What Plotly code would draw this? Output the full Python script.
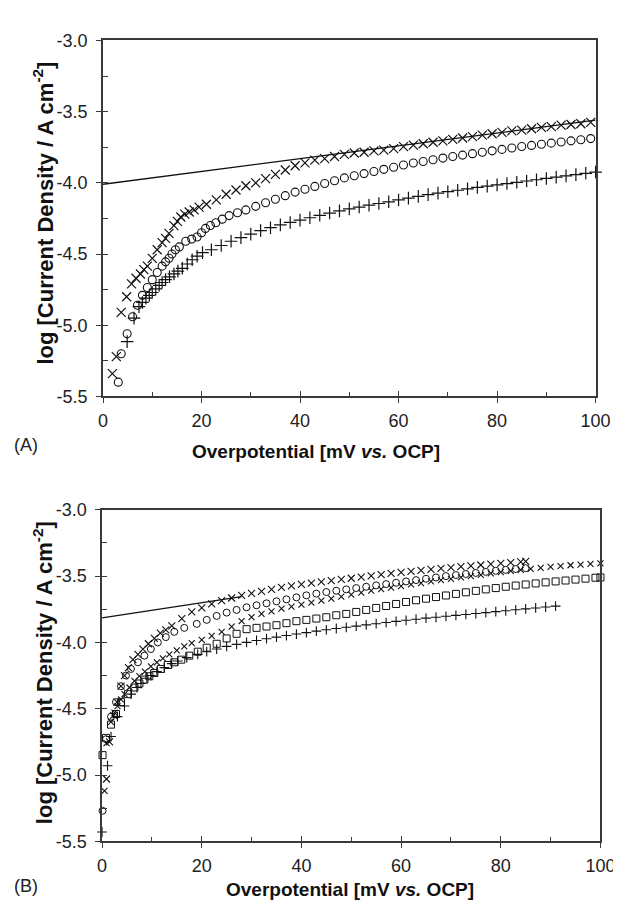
import plotly.graph_objects as go

# ---------------- Panel A data ----------------
A_line_x = [0, 100]
A_line_y = [-4.01, -3.56]

A_cross_x = [1.9, 2.7, 3.7, 4.8, 5.8, 6.7, 7.6, 8.3, 9.0, 10.0, 11.0, 12.0, 12.7, 13.4, 14.4, 15.1, 15.8, 16.6, 17.5, 18.5, 19.5,
             21, 23, 25, 27, 29, 31, 33, 35, 37, 39, 41, 43, 45, 47, 49, 51, 53, 55, 57, 59,
             61, 63, 65, 67, 69, 71, 73, 75, 77, 79, 81, 83, 85, 87, 89, 91, 93, 95, 97, 99]
A_cross_y = [-5.34, -5.22, -4.91, -4.80, -4.71, -4.67, -4.64, -4.61, -4.585, -4.53, -4.47, -4.42, -4.39, -4.355, -4.30, -4.27, -4.24, -4.22, -4.205, -4.19, -4.17,
             -4.15, -4.12, -4.08, -4.05, -4.02, -4.00, -3.97, -3.94, -3.91, -3.88, -3.86, -3.84, -3.83, -3.815, -3.80, -3.79, -3.785, -3.775, -3.77, -3.76,
             -3.745, -3.735, -3.725, -3.715, -3.705, -3.695, -3.685, -3.675, -3.665, -3.655, -3.645, -3.635, -3.63, -3.62, -3.61, -3.605, -3.595, -3.59, -3.585, -3.575]

A_circle_x = [3.1, 3.7, 4.9, 6.0, 7.0, 8.0, 9.0, 10.0, 11.0, 12.0, 12.7, 13.4, 14.0, 14.7, 15.5, 16.8, 18.0, 19.1, 20.0, 20.8, 21.8, 22.9, 24.2, 25.6, 27.3, 29.0,
              31, 33, 35, 37, 39, 41, 43, 45, 47, 49, 51, 53, 55, 57, 59, 61, 63, 65, 67, 69, 71, 73, 75, 77, 79, 81, 83, 85, 87, 89, 91, 93, 95, 97, 99]
A_circle_y = [-5.40, -5.20, -5.06, -4.94, -4.86, -4.79, -4.735, -4.68, -4.63, -4.585, -4.555, -4.53, -4.50, -4.47, -4.45, -4.41, -4.395, -4.38, -4.35, -4.32, -4.30, -4.28, -4.255, -4.23, -4.21, -4.19,
              -4.165, -4.14, -4.115, -4.09, -4.065, -4.045, -4.025, -4.005, -3.985, -3.965, -3.95, -3.935, -3.92, -3.905, -3.89, -3.875, -3.86, -3.85, -3.838, -3.826,
              -3.815, -3.805, -3.795, -3.785, -3.775, -3.765, -3.755, -3.745, -3.737, -3.729, -3.721, -3.713, -3.705, -3.697, -3.689]

A_plus_x = [4.9, 6.3, 7.3, 8.0, 8.7, 9.4, 10.0, 10.7, 11.4, 12.0, 12.7, 13.5, 14.4, 15.2, 16.1, 17.1, 18.1, 19.1, 20.2,
            22, 24, 26, 28, 30, 32, 34, 36, 38, 40, 42, 44, 46, 48, 50, 52, 54, 56, 58, 60,
            62, 64, 66, 68, 70, 72, 74, 76, 78, 80, 82, 84, 86, 88, 90, 92, 94, 96, 98, 100]
A_plus_y = [-5.115, -4.95, -4.87, -4.84, -4.81, -4.79, -4.77, -4.745, -4.72, -4.70, -4.68, -4.66, -4.64, -4.62, -4.60, -4.57, -4.54, -4.515, -4.49,
            -4.47, -4.44, -4.41, -4.385, -4.36, -4.335, -4.315, -4.295, -4.278, -4.262, -4.245, -4.228, -4.212, -4.197, -4.183, -4.170, -4.157, -4.145, -4.133, -4.12,
            -4.107, -4.095, -4.083, -4.072, -4.062, -4.052, -4.042, -4.032, -4.023, -4.014, -4.005, -3.996, -3.987, -3.978, -3.969, -3.96, -3.951, -3.942, -3.933, -3.924]

# ---------------- Panel B data ----------------
B_line_x = [0, 28]
B_line_y = [-3.815, -3.655]

B_cross1_x = [0.9, 1.5, 2.3, 3.0, 3.8, 4.5, 5.3, 6.2, 7.2, 8.2, 9.3, 10.5, 11.7, 12.8,
              14, 16, 18, 20, 22, 24, 26, 28, 30, 32, 34, 36, 38, 40, 42, 44, 46, 48, 50, 52, 54, 56, 58, 60,
              62, 64, 66, 68, 70, 72, 74, 76, 78, 80, 82, 84, 85]
B_cross1_y = [-5.03, -4.75, -4.55, -4.45, -4.33, -4.25, -4.19, -4.13, -4.09, -4.05, -4.01, -3.97, -3.93, -3.905,
              -3.875, -3.82, -3.77, -3.74, -3.71, -3.685, -3.665, -3.645, -3.63, -3.615, -3.60, -3.585, -3.573, -3.562, -3.552, -3.543, -3.534, -3.525, -3.516, -3.507, -3.498, -3.489, -3.48, -3.472,
              -3.464, -3.456, -3.449, -3.442, -3.435, -3.428, -3.422, -3.416, -3.41, -3.404, -3.398, -3.392, -3.388]

B_circle_x = [0.1, 0.8, 1.8, 2.8, 3.8, 4.8, 5.8, 7.2, 8.5, 9.8, 11.2, 12.8, 14.5, 16.5, 19,
              21, 23, 25, 27, 29, 31, 33, 35, 37, 39, 41, 43, 45, 47, 49, 51, 53, 55, 57, 59,
              61, 63, 65, 67, 69, 71, 73, 75, 77, 79, 81, 83, 85]
B_circle_y = [-5.27, -4.73, -4.56, -4.45, -4.33, -4.25, -4.20, -4.15, -4.10, -4.05, -4.00, -3.96, -3.92, -3.89, -3.86,
              -3.83, -3.80, -3.775, -3.755, -3.735, -3.72, -3.705, -3.69, -3.675, -3.66, -3.645, -3.632, -3.62, -3.61, -3.60, -3.59, -3.58, -3.57, -3.56, -3.55,
              -3.54, -3.53, -3.52, -3.51, -3.50, -3.492, -3.484, -3.476, -3.468, -3.46, -3.453, -3.446, -3.44]

B_cross2_x = [0.5, 0.9, 1.8, 2.5, 3.1, 3.8, 4.5, 5.5, 6.5, 7.5, 8.6, 9.8, 11.0, 12.2, 13.5, 15.0, 16.5, 18.0,
              20, 22, 24, 26, 28, 30, 32, 34, 36, 38, 40, 42, 44, 46, 48, 50, 52, 54, 56, 58,
              60, 62, 64, 66, 68, 70, 72, 74, 76, 78, 80, 82, 84, 86, 88, 90, 92, 94, 96, 98, 100]
B_cross2_y = [-5.12, -4.76, -4.60, -4.53, -4.48, -4.43, -4.39, -4.34, -4.29, -4.255, -4.22, -4.18, -4.15, -4.12, -4.09, -4.06, -4.03, -4.005,
              -3.98, -3.95, -3.92, -3.88, -3.84, -3.81, -3.785, -3.765, -3.745, -3.73, -3.715, -3.70, -3.685, -3.67, -3.655, -3.64, -3.625, -3.61, -3.598, -3.586,
              -3.575, -3.563, -3.552, -3.54, -3.53, -3.52, -3.51, -3.50, -3.49, -3.48, -3.47, -3.461, -3.453, -3.445, -3.437, -3.43, -3.424, -3.418, -3.413, -3.408, -3.403]

B_square_x = [0.1, 0.8, 1.8, 2.8, 3.8, 5.2, 6.5, 7.5, 8.5, 9.5, 10.5, 11.8, 13.2, 14.5, 15.9, 17.5, 19.2,
              21, 23, 25, 27, 29, 31, 33, 35, 37, 39, 41, 43, 45, 47, 49, 51, 53, 55, 57, 59,
              61, 63, 65, 67, 69, 71, 73, 75, 77, 79, 81, 83, 85, 87, 89, 91, 93, 95, 97, 99, 100]
B_square_y = [-4.85, -4.72, -4.62, -4.54, -4.45, -4.39, -4.34, -4.31, -4.28, -4.255, -4.23, -4.20, -4.17, -4.15, -4.13, -4.10, -4.07,
              -4.04, -4.01, -3.97, -3.935, -3.90, -3.89, -3.88, -3.87, -3.855, -3.84, -3.83, -3.82, -3.81, -3.795, -3.785, -3.77, -3.755, -3.74, -3.725, -3.71,
              -3.695, -3.682, -3.67, -3.658, -3.646, -3.634, -3.622, -3.611, -3.60, -3.59, -3.58, -3.571, -3.563, -3.555, -3.547, -3.54, -3.533, -3.526, -3.519, -3.512, -3.51]

B_plus_x = [0.0, 1.1, 1.8, 3.1, 4.5, 5.8, 7.0, 7.8, 9.0, 9.8, 11.0, 12.5, 14.0, 15.2, 17.0, 19.2,
            21, 23, 25, 27, 29, 31, 33, 35, 37, 39, 41, 43, 45, 47, 49, 51, 53, 55, 57, 59,
            61, 63, 65, 67, 69, 71, 73, 75, 77, 79, 81, 83, 85, 87, 89, 91]
B_plus_y = [-5.43, -4.93, -4.71, -4.56, -4.48, -4.39, -4.34, -4.31, -4.27, -4.25, -4.22, -4.19, -4.16, -4.14, -4.115, -4.09,
            -4.07, -4.05, -4.03, -4.015, -4.00, -3.985, -3.972, -3.96, -3.948, -3.937, -3.926, -3.915, -3.905, -3.895, -3.886, -3.877, -3.868, -3.859, -3.85, -3.841,
            -3.833, -3.825, -3.817, -3.81, -3.803, -3.796, -3.789, -3.782, -3.775, -3.768, -3.761, -3.754, -3.747, -3.74, -3.733, -3.726]

# ---------------- ticks / labels ----------------
x_tickvals = [0, 20, 40, 60, 80, 100]
x_ticktext = ["0", "20", "40", "60", "80", "100"]
x_minor = [10, 30, 50, 70, 90]
y_tickvals = [-5.5, -5.0, -4.5, -4.0, -3.5, -3.0]
y_ticktext = ["-5.5", "-5.0", "-4.5", "-4.0", "-3.5", "-3.0"]
y_minor = [-5.25, -4.75, -4.25, -3.75, -3.25]

x_title = "<b>Overpotential [mV <i>vs.</i> OCP]</b>"
y_title = "<b>log [Current Density / A cm<sup>-2</sup>]</b>"

W, H = 621, 901
FONT = "Arial, Liberation Sans, sans-serif"
AX = "#3a3a3a"
INK = "#111111"

fig = go.Figure()


def add_pts(x, y, sym, size, lw, xa, ya):
    fig.add_trace(go.Scatter(
        x=x, y=y, mode="markers", xaxis=xa, yaxis=ya, cliponaxis=False,
        marker=dict(symbol=sym, size=size, color=INK, line=dict(color=INK, width=lw)),
        showlegend=False, hoverinfo="skip"))


def add_line(x, y, xa, ya):
    fig.add_trace(go.Scatter(x=x, y=y, mode="lines", xaxis=xa, yaxis=ya,
                             line=dict(color=INK, width=1.3), showlegend=False, hoverinfo="skip"))


# Panel A
add_line(A_line_x, A_line_y, "x", "y")
add_pts(A_plus_x, A_plus_y, "cross-thin-open", 9, 1.2, "x", "y")
add_pts(A_circle_x, A_circle_y, "circle-open", 8, 1.1, "x", "y")
add_pts(A_cross_x, A_cross_y, "x-thin-open", 9, 1.2, "x", "y")

# Panel B
add_line(B_line_x, B_line_y, "x2", "y2")
add_pts(B_plus_x, B_plus_y, "cross-thin-open", 7, 1.1, "x2", "y2")
add_pts(B_square_x, B_square_y, "square-open", 7, 1.0, "x2", "y2")
add_pts(B_cross2_x, B_cross2_y, "x-thin-open", 6, 1.1, "x2", "y2")
add_pts(B_circle_x, B_circle_y, "circle-open", 7, 1.0, "x2", "y2")
add_pts(B_cross1_x, B_cross1_y, "x-thin-open", 7, 1.1, "x2", "y2")

# dummy traces so the overlay (inside-tick) axes are drawn
fig.add_trace(go.Scatter(x=[None], y=[None], xaxis="x3", yaxis="y3", showlegend=False))
fig.add_trace(go.Scatter(x=[None], y=[None], xaxis="x4", yaxis="y4", showlegend=False))


def px_x(p):
    return p / W


def px_y(p):
    return 1 - p / H


A_dx = [px_x(93), px_x(602)]
A_dy = [px_y(387), px_y(23)]
B_dx = [px_x(92), px_x(607)]
B_dy = [px_y(842), px_y(503)]

tickfont = dict(family=FONT, size=18, color="#222")


def main_x(domain, anchor):
    return dict(domain=domain, anchor=anchor, range=[0, 100], tickmode="array",
                tickvals=x_tickvals, ticktext=x_ticktext, ticks="outside", ticklen=5,
                tickwidth=1.3, tickcolor=AX, showline=True, linecolor=AX, linewidth=1.5,
                mirror=True, showgrid=False, zeroline=False, tickfont=tickfont,
                ticklabelstandoff=2,
                minor=dict(tickmode="array", tickvals=x_minor, ticks="inside", ticklen=5,
                           tickwidth=1.2, tickcolor=AX, showgrid=False))


def main_y(domain, anchor):
    return dict(domain=domain, anchor=anchor, range=[-5.5, -3.0], tickmode="array",
                tickvals=y_tickvals, ticktext=y_ticktext, ticks="outside", ticklen=5,
                tickwidth=1.3, tickcolor=AX, showline=True, linecolor=AX, linewidth=1.5,
                mirror=True, showgrid=False, zeroline=False, tickfont=tickfont,
                ticklabelstandoff=5,
                minor=dict(tickmode="array", tickvals=y_minor, ticks="inside", ticklen=5,
                           tickwidth=1.2, tickcolor=AX, showgrid=False))


def over_x(base, anchor):
    return dict(overlaying=base, anchor=anchor, range=[0, 100], tickmode="array",
                tickvals=x_tickvals, ticks="inside", ticklen=5, tickwidth=1.3, tickcolor=AX,
                showticklabels=False, showline=False, showgrid=False, zeroline=False)


def over_y(base, anchor):
    return dict(overlaying=base, anchor=anchor, side="left", range=[-5.5, -3.0], tickmode="array",
                tickvals=y_tickvals, ticks="inside", ticklen=5, tickwidth=1.3, tickcolor=AX,
                showticklabels=False, showline=False, showgrid=False, zeroline=False)


x_font = dict(family=FONT, size=19, color="#111")
y_font = dict(family=FONT, size=22, color="#111")
lab_font = dict(family=FONT, size=18, color="#222")
annotations = [
    dict(text=x_title, x=px_x(313), y=px_y(443), xref="paper", yref="paper",
         xanchor="center", yanchor="middle", showarrow=False, font=x_font),
    dict(text=x_title, x=px_x(348), y=px_y(891), xref="paper", yref="paper",
         xanchor="center", yanchor="middle", showarrow=False, font=x_font),
    dict(text=y_title, x=px_x(31), y=px_y(200), xref="paper", yref="paper", textangle=-90,
         xanchor="center", yanchor="middle", showarrow=False, font=y_font),
    dict(text=y_title, x=px_x(31), y=px_y(670), xref="paper", yref="paper", textangle=-90,
         xanchor="center", yanchor="middle", showarrow=False, font=y_font),
    dict(text="(A)", x=px_x(13), y=px_y(437), xref="paper", yref="paper",
         xanchor="center", yanchor="middle", showarrow=False, font=lab_font),
    dict(text="(B)", x=px_x(13), y=px_y(888), xref="paper", yref="paper",
         xanchor="center", yanchor="middle", showarrow=False, font=lab_font),
]

fig.update_layout(
    width=W, height=H, margin=dict(l=0, r=0, t=0, b=0),
    paper_bgcolor="white", plot_bgcolor="white", showlegend=False,
    font=dict(family=FONT, color="#222"),
    xaxis=main_x(A_dx, "y"), yaxis=main_y(A_dy, "x"),
    xaxis2=main_x(B_dx, "y2"), yaxis2=main_y(B_dy, "x2"),
    xaxis3=over_x("x", "y"), yaxis3=over_y("y", "x"),
    xaxis4=over_x("x2", "y2"), yaxis4=over_y("y2", "x2"),
    annotations=annotations,
)

fig.write_html("out.html")
